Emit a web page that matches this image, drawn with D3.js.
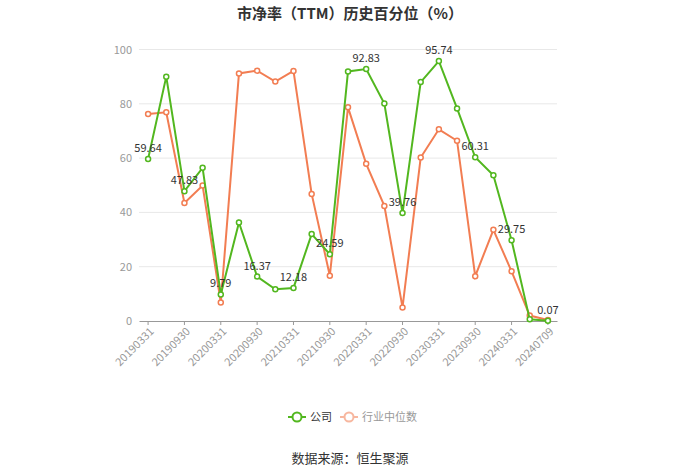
<!DOCTYPE html>
<html><head><meta charset="utf-8">
<script src="https://cdn.jsdelivr.net/npm/d3@7/dist/d3.min.js"></script>
<style>body{margin:0;background:#fff}svg{display:block}</style>
</head><body>
<script>
const dates = ["20190331","20190630","20190930","20191231","20200331","20200630","20200930","20201231","20210331","20210630","20210930","20211231","20220331","20220630","20220930","20221231","20230331","20230630","20230930","20231231","20240331","20240630","20240709"];
const company = [59.64,90.0,47.83,56.4,9.79,36.3,16.37,11.7,12.18,32.0,24.59,91.9,92.83,80.1,39.76,88.0,95.74,78.3,60.31,53.7,29.75,0.6,0.07];
const industry = [76.2,76.9,43.5,49.9,6.8,91.2,92.2,88.2,92.1,46.8,16.7,78.7,57.9,42.4,5.0,60.2,70.6,66.4,16.5,33.6,18.3,2.0,0.4];
const yTicks = [0,20,40,60,80,100];
const seriesNames = ["公司","行业中位数"];
const title = "市净率（TTM）历史百分位（%）";
const source = "数据来源：恒生聚源";

const W=700,H=474;
const green="#52b71f", orange="#f27d52";
const font="'Noto Sans CJK SC','Noto Sans',sans-serif";
const svg=d3.select("body").append("svg").attr("width",W).attr("height",H).style("font-family",font);

const x=d3.scaleBand().domain(dates).range([139,557]);
const y=d3.scaleLinear().domain([0,100]).range([321,49.5]);
const cx=d=>x(d)+x.bandwidth()/2;

svg.append("text").attr("x",350).attr("y",19).attr("text-anchor","middle")
  .attr("font-size",15).attr("font-weight","bold").attr("fill","#333").text(title);

// grid
svg.append("g").selectAll("line").data(yTicks.filter(t=>t>0)).join("line")
  .attr("x1",139).attr("x2",557).attr("y1",d=>y(d)).attr("y2",d=>y(d))
  .attr("stroke","#e8e8e8").attr("stroke-width",1);

// y axis labels
const ya=svg.append("g").attr("transform","translate(139,0)")
  .call(d3.axisLeft(y).tickValues(yTicks).tickSize(0).tickPadding(7));
ya.select(".domain").remove();
ya.selectAll("text").attr("font-size",11).attr("fill","#999").style("font-family",font);

// x axis
const xa=svg.append("g").attr("transform","translate(0,321)")
  .call(d3.axisBottom(x).tickValues(dates.filter((d,i)=>i%2===0)).tickSize(4).tickSizeOuter(0));
xa.select(".domain").attr("stroke","#999");
xa.selectAll(".tick line").attr("stroke","#999");
xa.selectAll("text").attr("font-size",11).attr("fill","#999").style("font-family",font)
  .attr("text-anchor","end").attr("transform","rotate(-45)").attr("dx","-0.3em").attr("dy","0.5em");

const line=d3.line().x((d,i)=>cx(dates[i])).y(d=>y(d));
function drawSeries(vals,col){
  svg.append("path").datum(vals).attr("d",line).attr("fill","none").attr("stroke",col).attr("stroke-width",2);
  svg.append("g").selectAll("circle").data(vals).join("circle")
    .attr("cx",(d,i)=>cx(dates[i])).attr("cy",d=>y(d)).attr("r",2.5)
    .attr("fill","#fff").attr("stroke",col).attr("stroke-width",1.5);
}
drawSeries(industry,orange);
drawSeries(company,green);

// labels
svg.append("g").selectAll("text").data(company.map((v,i)=>({v,i})).filter(d=>d.i%2===0)).join("text")
  .attr("x",d=>cx(dates[d.i])).attr("y",d=>y(d.v)-7).attr("text-anchor","middle")
  .attr("font-size",11).attr("fill","#333").text(d=>d.v.toFixed(2));

// legend
const lg=svg.append("g");
const items=[{n:seriesNames[0],c:green,tc:"#333",x:288,op:1},{n:seriesNames[1],c:orange,tc:"#999",x:340,op:0.55}];
items.forEach(it=>{
  const g=lg.append("g").attr("opacity",it.op);
  g.append("line").attr("x1",it.x).attr("x2",it.x+18).attr("y1",417).attr("y2",417).attr("stroke",it.c).attr("stroke-width",2);
  g.append("circle").attr("cx",it.x+9).attr("cy",417).attr("r",4.5).attr("fill","#fff").attr("stroke",it.c).attr("stroke-width",2);
  lg.append("text").attr("x",it.x+22).attr("y",421).attr("font-size",11).attr("fill",it.tc).text(it.n);
});

svg.append("text").attr("x",350).attr("y",463).attr("text-anchor","middle")
  .attr("font-size",13).attr("fill","#333").text(source);
</script>
</body></html>
